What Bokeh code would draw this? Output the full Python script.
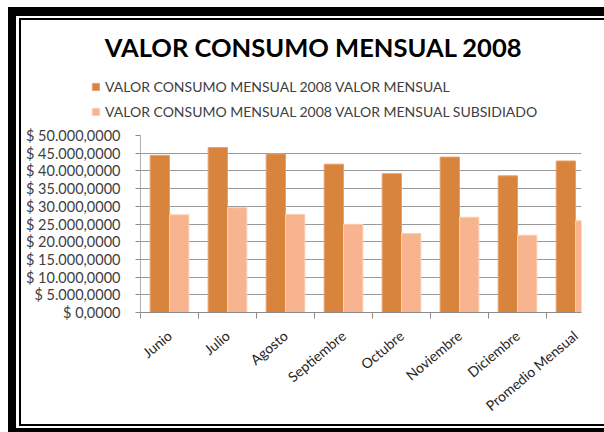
from bokeh.plotting import figure
from bokeh.layouts import column
from bokeh.models import (Range1d, FixedTicker, Legend, LegendItem, Label)
from bokeh.embed import file_html
from bokeh.resources import INLINE

categories = ["Junio", "Julio", "Agosto", "Septiembre", "Octubre", "Noviembre", "Diciembre", "Promedio Mensual"]
valor_mensual = [44.4e6, 46.6e6, 44.8e6, 41.9e6, 39.2e6, 43.9e6, 38.6e6, 42.8e6]
valor_subsidiado = [27.6e6, 29.6e6, 27.7e6, 24.9e6, 22.3e6, 26.9e6, 21.8e6, 25.9e6]
y_ticks = [0, 5e6, 10e6, 15e6, 20e6, 25e6, 30e6, 35e6, 40e6, 45e6, 50e6]
y_tick_labels = ["$ 0,0000", "$ 5.000,0000", "$ 10.000,0000", "$ 15.000,0000", "$ 20.000,0000",
                 "$ 25.000,0000", "$ 30.000,0000", "$ 35.000,0000", "$ 40.000,0000",
                 "$ 45.000,0000", "$ 50.000,0000"]
title_text = "VALOR CONSUMO MENSUAL 2008"
series_names = ["VALOR CONSUMO MENSUAL 2008 VALOR MENSUAL",
                "VALOR CONSUMO MENSUAL 2008 VALOR MENSUAL SUBSIDIADO"]

FONT = "Lato"
DARK = "#D9843D"
LIGHT = "#F8B48E"
DARK_EDGE = "#E8A070"
LIGHT_EDGE = "#FBCDB2"
NAN = float("nan")

n = len(categories)
centers = [i + 0.5 for i in range(n)]
bounds = [float(i) for i in range(n + 1)]

# ---------- header figure: title + legend ----------
TOP_H = 125
head = figure(width=604, height=TOP_H, output_backend="svg", toolbar_location=None,
              x_range=Range1d(0, 604), y_range=Range1d(TOP_H, 0),
              x_axis_type=None, y_axis_type=None, min_border=0, frame_align=False)
head.outline_line_color = None
head.background_fill_color = None
head.border_fill_color = None
head.xgrid.grid_line_color = None
head.ygrid.grid_line_color = None

head.add_layout(Label(x=313, y=46, text=title_text, text_align="center", text_baseline="middle",
                      text_font=FONT, text_font_style="bold", text_font_size="25.5px",
                      text_color="black"))

# legend swatches (renderers hold no visible mark; they only feed the legend)
h1 = head.vbar(x=[NAN], top=[NAN], width=1, fill_color=DARK, line_color=DARK_EDGE)
h2 = head.vbar(x=[NAN], top=[NAN], width=1, fill_color=LIGHT, line_color=LIGHT_EDGE)
legend = Legend(items=[LegendItem(label=series_names[0], renderers=[h1]),
                       LegendItem(label=series_names[1], renderers=[h2])],
                location=(91, 5), orientation="vertical",
                label_text_font=FONT, label_text_font_size="14px", label_text_color="#404040",
                glyph_width=9, glyph_height=9, label_height=16, spacing=8, padding=6, margin=0,
                label_standoff=5, border_line_color=None, background_fill_alpha=0)
head.add_layout(legend, "center")

# ---------- chart figure ----------
p = figure(width=604, height=432 - TOP_H, output_backend="svg", toolbar_location=None,
           x_range=Range1d(0, 7.603), y_range=Range1d(0, 50e6), frame_align=False,
           min_border_left=140, min_border_right=23, min_border_top=10, min_border_bottom=120)
p.outline_line_color = None
p.background_fill_color = "white"
p.border_fill_color = None

p.vbar(x=[c - 1/6 for c in centers], top=valor_mensual, width=1/3,
       fill_color=DARK, line_color=DARK_EDGE, line_width=1)
p.vbar(x=[c + 1/6 for c in centers], top=valor_subsidiado, width=1/3,
       fill_color=LIGHT, line_color=LIGHT_EDGE, line_width=1)

p.xaxis.ticker = FixedTicker(ticks=centers, minor_ticks=bounds)
p.xaxis.major_label_overrides = {c: lab for c, lab in zip(centers, categories)}
p.xaxis.major_tick_line_color = None
p.xaxis.minor_tick_line_color = "#8C8C8C"
p.xaxis.minor_tick_in = 0
p.xaxis.minor_tick_out = 6
p.xaxis.axis_line_color = "#8C8C8C"
p.xaxis.major_label_orientation = 0.70
p.xaxis.major_label_standoff = 15
p.xaxis.major_label_text_font = FONT
p.xaxis.major_label_text_font_size = "14px"
p.xaxis.major_label_text_color = "#262626"

p.yaxis.ticker = FixedTicker(ticks=y_ticks)
p.yaxis.major_label_overrides = {t: lab for t, lab in zip(y_ticks, y_tick_labels)}
p.yaxis.axis_line_color = "#B0B0B0"
p.yaxis.major_tick_line_color = "#8C8C8C"
p.yaxis.major_tick_in = 0
p.yaxis.major_tick_out = 5
p.yaxis.minor_tick_line_color = None
p.yaxis.major_label_standoff = 15
p.yaxis.major_label_text_font = FONT
p.yaxis.major_label_text_font_size = "14.5px"
p.yaxis.major_label_text_color = "#404040"

p.xgrid.grid_line_color = None
p.ygrid.ticker = FixedTicker(ticks=y_ticks)
p.ygrid.grid_line_color = "#9A9A9A"
p.ygrid.grid_line_width = 1

# double black frame drawn as CSS background beneath the transparent canvases
frame_css = {
    "background-color": "white",
    "background-image": ", ".join(["linear-gradient(#000, #000)"] * 6),
    "background-repeat": "no-repeat",
    "background-position": "8px 7px, 8px 7px, 8px 428px, 19px 18px, 19px 18px, 19px 424px",
    "background-size": "8px 425px, 596px 9px, 596px 4px, 2px 408px, 585px 2px, 585px 2px",
}
layout = column(head, p, spacing=0, styles=frame_css)

open("out.html", "w").write(file_html(layout, INLINE))
